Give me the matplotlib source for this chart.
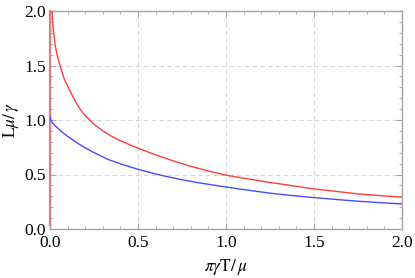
import matplotlib
matplotlib.use("Agg")
import matplotlib.pyplot as plt
from matplotlib.ticker import MultipleLocator

plt.rcParams['mathtext.fontset'] = 'stix'
plt.rcParams['font.family'] = ['Liberation Serif', 'DejaVu Serif']

# Data
red_x = [0.011, 0.015, 0.02, 0.03, 0.04, 0.057, 0.08, 0.1, 0.125, 0.15, 0.175,
         0.2, 0.227, 0.25, 0.3, 0.35, 0.4, 0.45, 0.5, 0.6, 0.7, 0.8, 0.9,
         1.0, 1.1, 1.25, 1.4, 1.5, 1.6, 1.75, 1.9, 2.0]
red_y = [2.0, 1.90, 1.81, 1.68, 1.60, 1.50, 1.38, 1.31, 1.23, 1.155, 1.09,
         1.04, 0.995, 0.96, 0.90, 0.85, 0.81, 0.775, 0.742, 0.68, 0.625, 0.575, 0.532,
         0.494, 0.466, 0.427, 0.392, 0.367, 0.350, 0.322, 0.303, 0.292]

blue_x = [0.0, 0.002, 0.006, 0.012, 0.02, 0.03, 0.045, 0.06, 0.08, 0.1, 0.132,
          0.165, 0.2, 0.24, 0.273, 0.33, 0.4, 0.455, 0.5, 0.575, 0.644, 0.74,
          0.833, 0.92, 1.0, 1.125, 1.25, 1.375, 1.5, 1.625, 1.75, 1.875, 2.0]
blue_y = [1.035, 1.015, 0.995, 0.978, 0.962, 0.945, 0.925, 0.902, 0.875, 0.85, 0.815,
          0.778, 0.745, 0.71, 0.683, 0.638, 0.598, 0.570, 0.548, 0.516, 0.488, 0.455,
          0.427, 0.405, 0.385, 0.356, 0.329, 0.307, 0.288, 0.271, 0.255, 0.242, 0.23]

vline_x = [0.0, 0.0]
vline_y = [0.04, 2.0]

x_ticks = [0.0, 0.5, 1.0, 1.5, 2.0]
y_ticks = [0.0, 0.5, 1.0, 1.5, 2.0]
x_label = r'$\pi\gamma\mathrm{T}/\,\mu$'
y_label = r'$\mathrm{L}\mu/\,\gamma$'

fig = plt.figure(figsize=(4.15, 2.78), dpi=100)
ax = fig.add_axes([50/415, 49/278, 352/415, 218/278])

grid_color = '#d4d4d4'
for v in x_ticks[1:-1]:
    ax.axvline(v, color=grid_color, lw=0.8, ls=(0, (4, 3)), zorder=0)
for v in y_ticks[1:-1]:
    ax.axhline(v, color=grid_color, lw=0.8, ls=(0, (4, 3)), zorder=0)

ax.plot(vline_x, vline_y, color='#d98080', lw=1.6, zorder=3, clip_on=False)
ax.plot(red_x, red_y, color='#ff3c3c', lw=1.0, zorder=4)
ax.plot(blue_x, blue_y, color='#4a4aff', lw=1.0, zorder=4)

ax.set_xlim(0, 2)
ax.set_ylim(0, 2)
ax.set_xticks(x_ticks)
ax.set_yticks(y_ticks)
ax.set_xticklabels([f'{v:.1f}' for v in x_ticks])
ax.set_yticklabels([f'{v:.1f}' for v in y_ticks])
ax.xaxis.set_minor_locator(MultipleLocator(0.1))
ax.yaxis.set_minor_locator(MultipleLocator(0.1))

spine_color = '#a6a6a6'
for s in ax.spines.values():
    s.set_color(spine_color)
    s.set_linewidth(1.0)

ax.tick_params(which='both', direction='in', top=True, right=True,
               color=spine_color, labelsize=12.5, labelcolor='black')
ax.tick_params(which='major', length=4, width=0.8)
ax.tick_params(which='minor', length=2.2, width=0.6)
ax.tick_params(axis='x', pad=4)
ax.tick_params(axis='y', pad=3)

ax.set_xlabel(x_label, fontsize=12.5)
ax.set_ylabel(y_label, fontsize=12.5)
ax.xaxis.set_label_coords(0.5, -0.13)
ax.yaxis.set_label_coords(-0.082, 0.5)

fig.savefig('out.png', dpi=100)
